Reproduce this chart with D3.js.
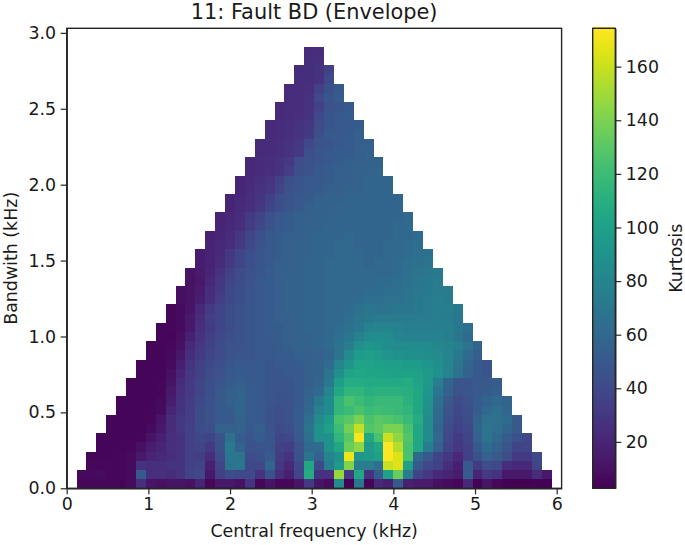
<!DOCTYPE html>
<html><head><meta charset="utf-8">
<script src="https://cdn.jsdelivr.net/npm/d3@7/dist/d3.min.js"></script>
<style>html,body{margin:0;background:#fff}svg{display:block}
text{font-family:"DejaVu Sans",sans-serif;fill:#1a1a1a}</style>
</head><body><svg id="c" width="685" height="545"></svg>
<script>
const title = "11: Fault BD (Envelope)";
const xLabel = "Central frequency (kHz)";
const yLabel = "Bandwith (kHz)";
const cLabel = "Kurtosis";
const xTicks = [0,1,2,3,4,5,6];
const yTicks = [0,0.5,1,1.5,2,2.5,3];
const cTicks = [20,40,60,80,100,120,140,160];
const fMax = 6.06;
const colWidth = 0.1212, rowHeight = 0.0606;
const kMin = 2.7, kMax = 174.3;
// kurtosis per bandwidth row, bottom to top; each pair of rows loses one column per side
const kurtosis = [
[6,5,6,5,5,8,26,12,10,12,12,10,20,6,14,14,10,28,5,12,6,6,12,32,12,8,85,3,70,5,22,18,50,18,15,15,10,8,6,22,4,12,6,4,3,3,4,4],
[8,7,8,6,6,8,50,26,26,24,28,38,40,14,36,42,40,40,28,45,26,18,38,108,28,28,148,32,105,28,52,100,135,75,38,30,22,20,15,52,20,32,28,14,14,14,24,14],
[6,6,6,6,8,28,25,26,28,28,36,38,18,38,68,70,40,40,58,30,22,40,105,40,75,95,142,75,75,65,160,165,100,50,40,35,25,18,50,32,42,40,25,22,22,38],
[5,5,5,6,8,14,20,22,25,28,35,33,25,42,70,68,42,45,50,33,28,45,68,55,80,90,170,92,95,100,174,165,125,60,50,38,30,22,36,45,55,50,42,32,32,40],
[5,5,5,6,10,16,20,26,28,36,38,32,45,72,56,46,48,48,36,34,46,60,62,90,105,135,145,95,105,174,155,125,105,75,55,38,30,35,50,62,55,48,38,38],
[5,5,5,5,6,12,18,26,28,36,40,38,46,66,52,48,52,48,38,40,50,65,88,90,115,130,172,105,125,160,145,128,105,85,60,40,32,38,55,68,60,52,45,40],
[5,5,5,5,8,14,24,30,36,42,44,56,54,56,50,54,46,42,44,52,68,90,100,120,138,158,128,132,140,140,125,105,85,58,42,35,40,58,68,65,58,50],
[5,5,5,5,6,12,24,30,34,42,46,50,50,56,52,50,46,44,46,52,64,84,95,125,130,140,125,130,128,125,118,108,85,60,45,38,42,56,66,66,62,50],
[5,5,5,5,8,20,28,34,42,46,50,52,58,52,50,46,44,46,52,60,78,85,115,120,125,120,122,120,118,115,105,88,62,48,40,44,52,60,64,58],
[5,5,5,5,7,16,27,33,40,45,50,54,58,52,50,48,46,46,50,58,72,85,115,125,120,115,118,118,118,112,105,90,65,50,42,46,52,56,60,58],
[5,5,5,6,14,26,32,38,44,50,54,56,52,50,48,46,48,50,56,62,80,105,115,115,110,112,112,112,110,105,92,70,55,46,48,50,52,54],
[5,5,5,6,11,24,32,38,44,48,52,54,52,50,48,48,48,50,54,58,72,98,108,108,106,106,106,106,108,102,95,75,58,48,48,50,50,52],
[5,5,5,10,20,30,36,42,46,50,52,50,50,48,48,50,50,54,56,68,88,102,105,104,103,102,101,100,100,95,90,80,66,56,50,48],
[5,5,5,8,17,28,36,40,44,48,50,50,50,48,50,50,52,54,56,62,80,92,102,102,100,98,98,96,96,92,88,80,68,58,50,48],
[5,5,7,13,25,32,38,42,46,48,48,50,50,52,52,54,54,55,58,68,85,96,98,96,92,90,88,88,86,84,80,72,62,54],
[5,5,6,10,22,30,36,42,46,46,48,50,50,52,54,56,56,58,60,68,75,88,92,90,86,84,84,84,84,82,80,76,68,58],
[5,5,9,18,28,34,40,44,46,48,50,52,52,54,56,56,58,60,64,70,78,84,86,84,80,78,78,78,78,76,70,62],
[5,6,8,14,26,32,38,42,46,48,50,52,52,54,56,58,58,60,62,66,72,78,80,80,78,76,76,76,76,76,72,66],
[6,8,14,24,34,38,42,46,48,50,52,54,54,56,58,58,60,60,64,68,72,74,74,74,74,74,74,76,74,70],
[6,8,12,22,32,37,42,46,48,50,52,54,56,56,58,58,60,60,62,66,70,68,68,70,70,72,74,76,76,72],
[9,11,17,26,34,40,44,48,50,52,54,56,56,58,58,60,60,60,62,64,64,66,66,68,72,74,76,74],
[9,11,15,25,32,40,44,48,50,52,54,56,56,58,58,60,60,60,60,62,62,64,66,68,70,72,74,74],
[11,14,22,30,38,42,46,50,52,54,56,56,58,58,60,60,60,60,60,62,62,64,66,70,72,74],
[12,15,20,28,36,42,46,48,52,54,54,56,58,58,60,60,60,60,60,60,60,62,66,68,70,72],
[16,19,24,32,38,44,48,50,54,54,56,58,58,60,60,60,60,58,60,60,62,64,66,68],
[16,19,23,30,38,44,48,50,52,54,56,56,58,58,60,60,60,58,58,60,60,62,64,66],
[20,22,25,32,40,46,50,52,54,56,56,58,58,60,60,58,58,58,60,60,62,64],
[19,21,24,30,38,45,50,52,54,54,56,58,58,58,60,58,58,58,58,60,60,62],
[20,22,26,33,40,46,50,52,54,56,56,58,58,58,58,58,58,58,60,62],
[20,22,25,31,38,45,50,52,54,54,56,56,58,58,58,58,58,58,58,60],
[20,23,26,30,38,44,48,50,54,56,56,58,58,58,58,58,58,58],
[20,22,25,29,36,44,46,50,52,54,56,56,58,58,58,58,58,58],
[21,24,27,30,38,46,48,50,52,54,54,56,56,58,58,58],
[21,23,26,29,36,44,48,50,50,52,54,54,56,58,58,58],
[22,24,26,28,34,44,46,50,52,54,54,56,56,58],
[22,24,25,27,32,42,46,48,50,52,54,54,56,56],
[23,24,25,27,32,44,48,50,52,52,54,56],
[23,24,25,27,30,40,46,48,50,52,54,54],
[23,24,26,28,32,44,50,50,52,54],
[23,24,25,27,30,42,48,50,50,52],
[23,24,26,28,40,48,50,52],
[23,24,25,27,36,46,48,50],
[24,25,27,40,48,52],
[24,25,26,36,44,50],
[25,25,28,40],
[24,25,28,36],
[25,26],
[24,25]
];

const svg = d3.select("#c");
const L=66.7,R=561.6,T=28.3,B=488.3, CL=592.7, CR=615.3;
const x = d3.scaleLinear().domain([0,fMax]).range([L,R]);
const y = d3.scaleLinear().domain([0,fMax/2]).range([B,T]);
const color = d3.scaleSequential(d3.interpolateViridis).domain([kMin,kMax]);
const cY = d3.scaleLinear().domain([kMin,kMax]).range([B,T]);

const cells = kurtosis.flatMap((row,k)=>{
  const first = Math.floor(k/2);
  return row.map((v,j)=>({col:first+j,row:k,v}));
});
svg.append("g").selectAll("rect").data(cells).join("rect")
  .attr("x",d=>x((d.col+1)*colWidth))
  .attr("y",d=>y((d.row+1)*rowHeight))
  .attr("width",d=>x((d.col+2)*colWidth)-x((d.col+1)*colWidth))
  .attr("height",d=>y(d.row*rowHeight)-y((d.row+1)*rowHeight))
  .attr("fill",d=>color(d.v))
  .attr("shape-rendering","crispEdges");

function style(g){
  g.selectAll("path").attr("stroke","#262626").attr("stroke-width",1.4);
  g.selectAll("line").attr("stroke","#262626").attr("stroke-width",1.2);
  g.selectAll("text").attr("font-size",17.4).attr("font-family","DejaVu Sans").attr("fill","#1a1a1a");
}
const ax = svg.append("g").attr("transform",`translate(0,${B})`)
  .call(d3.axisBottom(x).tickValues(xTicks).tickFormat(d3.format("d")).tickSize(6).tickPadding(3).tickSizeOuter(0));
style(ax);
const ay = svg.append("g").attr("transform",`translate(${L},0)`)
  .call(d3.axisLeft(y).tickValues(yTicks).tickFormat(d3.format(".1f")).tickSize(6).tickPadding(4.5).tickSizeOuter(0));
style(ay);
svg.append("rect").attr("x",L).attr("y",T).attr("width",R-L).attr("height",B-T)
  .attr("fill","none").attr("stroke","#262626").attr("stroke-width",1.4);

const ramp = d3.range(kMin,kMax,0.5);
svg.append("g").selectAll("rect").data(ramp).join("rect")
  .attr("x",CL).attr("width",CR-CL)
  .attr("y",d=>cY(d+0.5)).attr("height",d=>cY(d)-cY(d+0.5)+0.5)
  .attr("fill",d=>color(d+0.25))
  .attr("shape-rendering","crispEdges");
const ac = svg.append("g").attr("transform",`translate(${CR},0)`)
  .call(d3.axisRight(cY).tickValues(cTicks).tickSize(6).tickPadding(4.5).tickSizeOuter(0));
style(ac);
svg.append("rect").attr("x",CL).attr("y",T).attr("width",CR-CL).attr("height",B-T)
  .attr("fill","none").attr("stroke","#262626").attr("stroke-width",1.4);

svg.append("text").attr("x",(L+R)/2).attr("y",19).attr("text-anchor","middle").attr("font-size",20.9).text(title);
svg.append("text").attr("x",(L+R)/2).attr("y",537).attr("text-anchor","middle").attr("font-size",17.4).text(xLabel);
svg.append("text").attr("transform",`translate(17,${(T+B)/2}) rotate(-90)`).attr("text-anchor","middle").attr("font-size",17.4).text(yLabel);
svg.append("text").attr("transform",`translate(682,${(T+B)/2}) rotate(-90)`).attr("text-anchor","middle").attr("font-size",17.4).text(cLabel);
</script></body></html>
